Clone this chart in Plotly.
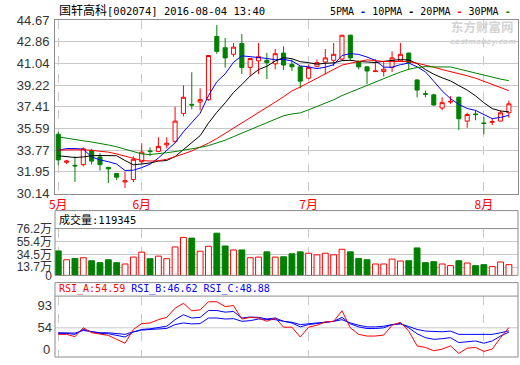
import plotly.graph_objects as go

# ---------------- data ----------------
dates = [
    "2016-05-18", "2016-05-19", "2016-05-20", "2016-05-23", "2016-05-24", "2016-05-25", "2016-05-26",
    "2016-05-27", "2016-05-30", "2016-05-31",
    "2016-06-01", "2016-06-02", "2016-06-03", "2016-06-06", "2016-06-07", "2016-06-08", "2016-06-13",
    "2016-06-14", "2016-06-15", "2016-06-16", "2016-06-17", "2016-06-20", "2016-06-21", "2016-06-22",
    "2016-06-23", "2016-06-24", "2016-06-27", "2016-06-28", "2016-06-29", "2016-06-30",
    "2016-07-01", "2016-07-04", "2016-07-05", "2016-07-06", "2016-07-07", "2016-07-08", "2016-07-11",
    "2016-07-12", "2016-07-13", "2016-07-14", "2016-07-15", "2016-07-18", "2016-07-19", "2016-07-20",
    "2016-07-21", "2016-07-22", "2016-07-25", "2016-07-26", "2016-07-27", "2016-07-28", "2016-07-29",
    "2016-08-01", "2016-08-02", "2016-08-03", "2016-08-04",
]

open_p = [35.1, 32.75, 32.5, 32.55, 33.75, 33.2, 32.33, 31.8, 31.1, 31.3,
          32.8, 33.7, 33.66, 34.2, 34.5, 36.85, 37.6, 37.8, 38.0, 43.3,
          42.35, 41.8, 42.7, 40.7, 41.25, 41.3, 41.0, 41.9, 40.95, 40.75,
          39.8, 40.8, 41.15, 41.3, 41.4, 43.4, 41.2, 40.75, 40.35, 40.35,
          40.7, 41.25, 41.9, 39.65, 38.5, 38.4, 37.3, 37.8, 38.2, 36.2,
          36.8, 36.05, 36.1, 36.2, 36.9]
high_p = [35.3, 32.95, 33.25, 34.0, 33.88, 33.52, 32.35, 31.82, 31.95, 33.25,
          34.35, 33.99, 34.85, 34.84, 37.4, 39.2, 40.3, 38.95, 41.75, 44.25,
          43.16, 42.75, 43.5, 41.5, 42.75, 41.92, 42.25, 42.47, 41.37, 40.8,
          40.95, 41.37, 42.25, 42.75, 43.43, 43.45, 41.3, 40.8, 41.4, 41.23,
          42.05, 42.75, 41.95, 39.7, 38.75, 38.5, 38.2, 38.29, 38.25, 36.9,
          37.1, 36.55, 36.41, 37.1, 37.92]
low_p = [32.5, 32.6, 31.1, 32.4, 32.56, 32.06, 31.0, 31.25, 30.6, 31.1,
         32.6, 33.25, 33.6, 33.9, 34.4, 36.6, 37.2, 37.1, 37.9, 41.85,
         40.68, 41.59, 40.15, 40.0, 40.13, 39.72, 40.54, 40.48, 40.4, 38.95,
         39.7, 40.7, 40.13, 40.81, 41.3, 41.25, 40.54, 39.3, 40.35, 39.94,
         40.32, 41.2, 40.5, 38.2, 38.2, 37.5, 37.1, 37.65, 35.45, 35.64,
         36.27, 35.09, 35.86, 36.2, 36.47]
close_p = [32.95, 32.85, 32.45, 33.88, 32.85, 32.55, 32.2, 31.5, 31.2, 33.0,
           33.6, 33.65, 34.08, 34.35, 36.2, 38.2, 37.55, 38.0, 41.7, 42.05,
           41.5, 42.4, 40.7, 41.45, 41.6, 41.1, 41.85, 40.9, 40.75, 39.55,
           40.7, 41.1, 41.5, 41.8, 43.4, 41.5, 40.75, 40.4, 40.4, 40.55,
           41.5, 41.8, 41.1, 38.8, 38.45, 37.55, 37.75, 37.85, 36.4, 36.75,
           36.75, 36.0, 36.15, 36.9, 37.65]

ma5 = [33.75, 33.9, 33.9, 33.85, 33.2, 32.95, 32.8, 32.6, 32.06, 32.09,
       32.3, 32.59, 33.11, 33.74, 34.38, 35.3, 36.08, 36.86, 38.33, 39.5,
       40.16, 41.13, 41.67, 41.62, 41.53, 41.45, 41.34, 41.38, 41.24, 40.83,
       40.75, 40.6, 40.72, 40.93, 41.7, 41.86, 41.79, 41.57, 41.29, 40.72,
       40.72, 40.93, 41.07, 40.75, 40.33, 39.54, 38.73, 38.08, 37.6, 37.26,
       37.1, 36.75, 36.41, 36.51, 36.69]
ma10 = [33.3, 33.2, 33.15, 33.2, 33.3, 33.32, 33.33, 33.3, 32.9, 32.54,
        32.61, 32.69, 32.85, 32.9, 33.23, 33.8, 34.33, 34.98, 36.03, 36.94,
        37.73, 38.6, 39.27, 39.98, 40.52, 40.8, 41.24, 41.52, 41.43, 41.18,
        41.1, 40.97, 41.05, 41.08, 41.27, 41.3, 41.2, 41.14, 41.11, 41.21,
        41.29, 41.36, 41.32, 41.02, 40.52, 40.13, 39.83, 39.57, 39.18, 38.8,
        38.32, 37.74, 37.25, 37.05, 36.98]
ma20 = [33.78, 33.8, 33.8, 33.8, 33.75, 33.68, 33.6, 33.45, 33.25, 33.05,
        32.9, 32.85, 32.88, 33.0, 33.2, 33.45, 33.7, 34.0, 34.35, 34.74,
        35.17, 35.65, 36.06, 36.44, 36.88, 37.3, 37.79, 38.25, 38.73, 39.06,
        39.42, 39.79, 40.16, 40.53, 40.9, 41.05, 41.22, 41.33, 41.27, 41.2,
        41.2, 41.17, 41.19, 41.05, 40.9, 40.72, 40.52, 40.36, 40.15, 40.0,
        39.8, 39.55, 39.29, 39.04, 38.75]
ma30 = [34.88, 34.75, 34.65, 34.55, 34.45, 34.35, 34.2, 34.05, 33.85, 33.6,
        33.45, 33.4, 33.45, 33.55, 33.65, 33.75, 33.85, 34.0, 34.15, 34.35,
        34.6, 34.9, 35.2, 35.5, 35.8, 36.1, 36.4, 36.65, 36.8, 36.89,
        37.15, 37.42, 37.72, 37.99, 38.34, 38.63, 38.92, 39.21, 39.52, 39.78,
        40.04, 40.31, 40.55, 40.69, 40.77, 40.74, 40.76, 40.74, 40.57, 40.4,
        40.24, 40.02, 39.87, 39.72, 39.59]

volume_wan = [40.5, 25.9, 28.1, 29.2, 24.3, 21.1, 25.9, 21.1, 18.9, 30.3,
              38.4, 27.6, 31.9, 27.6, 47.0, 62.7, 61.6, 40.0, 48.1, 69.7,
              48.6, 42.1, 42.1, 29.2, 30.3, 38.9, 30.3, 30.8, 35.7, 38.9,
              36.7, 34.0, 36.7, 34.0, 43.2, 38.9, 28.1, 25.9, 18.9, 18.9,
              27.0, 23.8, 24.3, 45.4, 21.1, 22.7, 18.9, 16.2, 24.3, 20.5,
              16.2, 17.8, 14.6, 22.2, 17.8]

rsi_a = [42.8, 42.8, 38.9, 54.0, 45.6, 42.8, 41.1, 34.4, 27.7, 51.2,
         61.2, 62.3, 67.9, 71.8, 87.4, 95.8, 83.0, 84.7, 98.3, 98.5,
         90.2, 91.9, 69.0, 71.8, 70.7, 65.1, 70.7, 55.1, 55.1, 38.3,
         55.1, 58.4, 64.0, 65.1, 83.0, 54.0, 42.8, 40.0, 40.0, 41.7,
         58.4, 63.4, 48.4, 23.2, 20.5, 14.9, 17.7, 23.2, 10.4, 19.3,
         20.5, 13.8, 17.7, 37.2, 54.59]
rsi_b = [44.5, 44.5, 42.8, 51.2, 47.3, 44.5, 43.9, 41.1, 38.3, 46.7,
         51.2, 52.3, 55.1, 56.7, 67.9, 76.3, 70.7, 71.8, 83.5, 83.5,
         80.7, 81.9, 70.7, 72.4, 71.8, 69.0, 70.7, 65.1, 62.3, 55.6,
         59.5, 61.2, 62.3, 65.1, 71.8, 60.7, 55.6, 52.8, 52.8, 54.0,
         59.5, 61.2, 54.0, 43.9, 37.2, 34.4, 35.5, 37.2, 28.8, 29.9,
         31.6, 27.7, 31.6, 40.0, 46.62]
rsi_c = [45.6, 45.6, 45.0, 49.5, 47.3, 45.6, 45.6, 43.9, 42.8, 47.3,
         50.1, 51.2, 52.3, 52.9, 59.5, 62.3, 60.7, 61.2, 70.7, 70.7,
         69.0, 69.6, 65.1, 66.2, 69.0, 67.9, 67.9, 65.1, 63.4, 59.5,
         60.7, 62.3, 63.4, 65.1, 67.9, 62.3, 58.4, 55.6, 55.6, 56.7,
         59.5, 60.7, 56.2, 51.2, 48.4, 47.3, 47.3, 48.4, 42.8, 42.8,
         42.8, 41.7, 42.8, 45.6, 48.88]

month_ticks = ["2016-05-18", "2016-06-01", "2016-07-01", "2016-08-01"]
month_labels = ["5月", "6月", "7月", "8月"]
price_ticks = [30.14, 31.95, 33.77, 35.59, 37.41, 39.22, 41.04, 42.86, 44.67]
price_labels = ["30.14", "31.95", "33.77", "35.59", "37.41", "39.22", "41.04", "42.86", "44.67"]
vol_ticks = [0, 13.7, 34.5, 55.4, 76.2]
vol_labels = ["0", "13.7万", "34.5万", "55.4万", "76.2万"]
rsi_ticks = [54, 93]
rsi_labels = ["54", "93"]
last_volume = "119345"

# ---------------- layout helpers (pixels -> paper) ----------------
W, H = 520, 365
ML, MR, MT, MB = 55, 1, 20, 2
PW, PH = W - ML - MR, H - MT - MB


def pxx(x):
    return (x - ML) / PW


def pxy(y):
    return (H - MB - y) / PH


RED, GREEN, BLUE = "#ff0000", "#008000", "#0000ff"
GRID, FRAME = "#c8c8c8", "#8c8c8c"
NUMFONT = dict(family="Liberation Sans, Arial, sans-serif", size=13, color="#333333")
MONO = "DejaVu Sans Mono, monospace"
CJK = "Noto Sans CJK SC, sans-serif"

fig = go.Figure()

fig.add_trace(go.Candlestick(
    x=dates, open=open_p, high=high_p, low=low_p, close=close_p,
    increasing=dict(line=dict(color=RED, width=1), fillcolor="#ffffff"),
    decreasing=dict(line=dict(color=GREEN, width=1), fillcolor=GREEN),
    xaxis="x", yaxis="y", showlegend=False, hoverinfo="skip",
))

for series, col in [(ma5, BLUE), (ma10, "#000000"), (ma20, RED), (ma30, GREEN)]:
    fig.add_trace(go.Scatter(x=dates, y=series, mode="lines", line=dict(color=col, width=1),
                             xaxis="x", yaxis="y", showlegend=False, hoverinfo="skip"))

up = [c >= o for o, c in zip(open_p, close_p)]
fig.add_trace(go.Bar(
    x=dates, y=volume_wan, width=0.7,
    marker=dict(color=["#ffffff" if u else GREEN for u in up],
                line=dict(color=[RED if u else GREEN for u in up], width=1)),
    xaxis="x2", yaxis="y2", showlegend=False, hoverinfo="skip",
))

for series, col in [(rsi_c, BLUE), (rsi_b, BLUE), (rsi_a, RED)]:
    fig.add_trace(go.Scatter(x=dates, y=series, mode="lines", line=dict(color=col, width=1),
                             xaxis="x3", yaxis="y3", showlegend=False, hoverinfo="skip"))

xcommon = dict(type="category", range=[-0.39, 55.09], tickvals=month_ticks, ticktext=month_labels,
               showgrid=True, gridcolor=GRID, griddash="dash", gridwidth=1, zeroline=False,
               ticks="", ticklen=0)
ycommon = dict(zeroline=False, ticks="", ticklen=0, ticklabelstandoff=2)

fig.update_layout(
    width=W, height=H, margin=dict(l=ML, r=MR, t=MT, b=MB),
    paper_bgcolor="#ffffff", plot_bgcolor="#ffffff", showlegend=False,
    xaxis=dict(**xcommon, anchor="y", domain=[0, 1], showline=True, linecolor=FRAME, mirror=True,
               tickfont=dict(family=CJK, size=12, color=RED), rangeslider=dict(visible=False)),
    xaxis2=dict(**xcommon, anchor="y2", domain=[0, 1], matches="x", showticklabels=False),
    xaxis3=dict(**xcommon, anchor="y3", domain=[0, 1], matches="x", showticklabels=False),
    yaxis=dict(**ycommon, domain=[pxy(197), 1], range=[30.10, 44.675], tickvals=price_ticks,
               ticktext=price_labels, showgrid=True, gridcolor=GRID, showline=True,
               linecolor=FRAME, mirror=True, tickfont=NUMFONT),
    yaxis2=dict(**ycommon, domain=[pxy(280), pxy(232.3)], range=[0, 77.3], tickvals=vol_ticks,
                ticktext=vol_labels, showgrid=True, gridcolor=GRID,
                tickfont=dict(family="Liberation Sans, Noto Sans CJK SC, sans-serif", size=12,
                              color="#333333")),
    yaxis3=dict(**ycommon, domain=[0, pxy(301)], range=[4.25, 108.1], tickvals=rsi_ticks,
                ticktext=rsi_labels, showgrid=False, tickfont=NUMFONT),
)

shapes = [
    # volume panel frame and header divider
    dict(type="rect", xref="paper", yref="paper", x0=0, x1=1, y0=pxy(280), y1=pxy(214),
         line=dict(color=FRAME, width=1)),
    dict(type="line", xref="paper", yref="paper", x0=0, x1=1, y0=pxy(232.3), y1=pxy(232.3),
         line=dict(color=FRAME, width=1)),
    # RSI panel frame and header divider
    dict(type="rect", xref="paper", yref="paper", x0=0, x1=1, y0=0, y1=pxy(287.3),
         line=dict(color=FRAME, width=1)),
    dict(type="line", xref="paper", yref="paper", x0=0, x1=1, y0=pxy(301), y1=pxy(301),
         line=dict(color=FRAME, width=1)),
    # RSI 54 level line
    dict(type="line", xref="x3 domain", yref="y3", x0=0, x1=1, y0=54, y1=54,
         line=dict(color=GRID, width=1), layer="below"),
]
fig.update_layout(shapes=shapes)

annotations = [
    dict(x=pxx(57), y=pxy(9), xref="paper", yref="paper", xanchor="left", yanchor="middle",
         showarrow=False, align="left",
         text="<span style='font-family:Noto Sans CJK SC;font-size:12px'>国轩高科</span>[002074] 2016-08-04 13:40",
         font=dict(family=MONO, size=10.5, color="#000000")),
    dict(x=pxx(514), y=pxy(11), xref="paper", yref="paper", xanchor="right", yanchor="middle",
         showarrow=False,
         text=("5PMA <span style='color:#0000ff'><b>-</b></span> 10PMA <span style='color:#000000'><b>-</b></span> "
               "20PMA <span style='color:#ff0000'><b>-</b></span> 30PMA <span style='color:#008000'><b>-</b></span>"),
         font=dict(family=MONO, size=10, color="#000000")),
    dict(x=pxx(483), y=pxy(27), xref="paper", yref="paper", xanchor="center", yanchor="middle",
         showarrow=False, text="<b>东方财富网</b>", font=dict(family=CJK, size=12.5, color="#d4d4d4")),
    dict(x=pxx(484), y=pxy(41.5), xref="paper", yref="paper", xanchor="center", yanchor="middle",
         showarrow=False, text="<b><i>eastmoney.com</i></b>",
         font=dict(family="DejaVu Sans", size=7.5, color="#d4d4d4")),
    dict(x=pxx(57), y=pxy(223), xref="paper", yref="paper", xanchor="left", yanchor="middle",
         showarrow=False,
         text="<span style='font-family:Noto Sans CJK SC;font-size:11px'>成交量</span>:" + last_volume,
         font=dict(family=MONO, size=10.5, color="#000000")),
    dict(x=pxx(57), y=pxy(294), xref="paper", yref="paper", xanchor="left", yanchor="middle",
         showarrow=False,
         text=("<span style='color:#ff0000'>RSI_A:%.2f</span> <span style='color:#0000ff'>RSI_B:%.2f</span> "
               "<span style='color:#0000ff'>RSI_C:%.2f</span>") % (rsi_a[-1], rsi_b[-1], rsi_c[-1]),
         font=dict(family=MONO, size=10, color="#000000")),
    dict(x=pxx(52), y=pxy(355.7), xref="paper", yref="paper", xanchor="right", yanchor="middle",
         showarrow=False, text="0", font=NUMFONT),
]
fig.update_layout(annotations=annotations)

fig.write_html("out.html", config={"displayModeBar": False},
               post_script="document.body.style.margin='0';document.body.style.overflow='hidden';")
